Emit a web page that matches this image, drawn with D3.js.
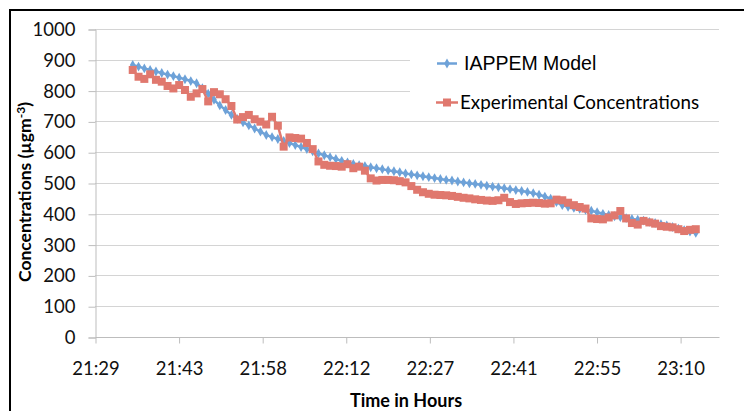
<!DOCTYPE html>
<html>
<head>
<meta charset="utf-8">
<script src="https://cdn.jsdelivr.net/npm/d3@7"></script>
<style>
  body { margin: 0; background: #fff; }
  svg { display: block; }
</style>
</head>
<body>
<div id="chart"></div>
<script>
// readings, one per minute starting 21:35:30
var startMinute = 6.5;   // minutes after 21:29
var stepMinutes = 1;

var modelValues = [
  883, 878, 872, 867, 862, 857, 852, 847, 842, 837,
  831, 824, 808, 790, 770, 752, 737, 721, 708, 697,
  687, 677, 667, 656, 649, 643, 637, 630, 623, 617,
  610, 603, 596, 590, 584, 578, 572, 567, 562, 558,
  555, 551, 548, 545, 541, 538, 535, 531, 528, 525,
  522, 519, 516, 513, 510, 508, 505, 502, 499, 497,
  494, 491, 488, 486, 483, 480, 477, 474, 471, 467,
  462, 456, 449, 438, 428, 423, 419, 416, 413, 410,
  405, 400, 396, 392, 389, 386, 383, 381, 378, 374,
  370, 366, 362, 357, 352, 347, 342, 338
];

var experimentalValues = [
  867, 845, 838, 853, 835, 829, 815, 807, 818, 802,
  780, 791, 805, 765, 795, 788, 772, 750, 706, 714,
  721, 707, 699, 690, 715, 686, 618, 648, 646, 644,
  630, 610, 570, 559, 556, 555, 553, 561, 548, 553,
  540, 515, 508, 510, 510, 509, 506, 502, 490, 478,
  470, 465, 462, 461, 460, 458, 455, 452, 450, 447,
  445, 443, 442, 444, 452, 438, 432, 434, 435, 436,
  435, 433, 434, 446, 444, 436, 428, 422, 417, 385,
  383, 382, 388, 395, 409, 385, 370, 365, 377, 372,
  368, 360, 358, 356, 350, 344, 348, 350
];

var seriesNames = ['IAPPEM Model', 'Experimental Concentrations'];
var seriesColors = ['#6ea2d8', '#e0786e'];

var xTickLabels = ['21:29', '21:43', '21:58', '22:12', '22:27', '22:41', '22:55', '23:10'];
var xTickStep = 14.4; // minutes between labels
var yTicks = [0, 100, 200, 300, 400, 500, 600, 700, 800, 900, 1000];

var width = 744, height = 411;
var plotLeft = 95, plotRight = 719, plotTop = 29, plotBottom = 337;
var labelFont = 'Lato, "Open Sans", sans-serif';
var sq = 8; // red marker side

var svg = d3.select('#chart')
  .append('svg')
  .attr('width', width)
  .attr('height', height);

var x = d3.scaleLinear().domain([0, 107.5]).range([plotLeft, plotRight]);
var y = d3.scaleLinear().domain([0, 1000]).range([plotBottom, plotTop]);

var times = modelValues.map(function(d, i) { return startMinute + i * stepMinutes; });

// outer frame (left and top edges)
svg.append('path')
  .attr('d', 'M10,411 L10,10 L744,10')
  .attr('fill', 'none')
  .attr('stroke', '#000')
  .attr('stroke-width', 2);

// gridlines
svg.append('g')
  .selectAll('line')
  .data(yTicks.filter(function(d) { return d > 0; }))
  .enter().append('line')
  .attr('x1', plotLeft).attr('x2', plotRight)
  .attr('y1', function(d) { return Math.round(y(d)) + 0.5; })
  .attr('y2', function(d) { return Math.round(y(d)) + 0.5; })
  .attr('stroke', '#d4d4d4')
  .attr('stroke-width', 1);

// y axis
var yAxis = d3.axisLeft(y).tickValues(yTicks).tickFormat(d3.format('d'))
  .tickSize(7).tickPadding(13);
var gy = svg.append('g')
  .attr('transform', 'translate(' + (plotLeft + 0.5) + ',0.5)')
  .call(yAxis);
gy.select('.domain').attr('stroke', '#bdbdbd');
gy.selectAll('.tick line').attr('stroke', '#bdbdbd');
gy.selectAll('.tick text')
  .attr('fill', '#111')
  .style('font-family', labelFont)
  .style('font-size', '18.5px');

// x axis
var xTickValues = xTickLabels.map(function(d, i) { return i * xTickStep; });
var xAxis = d3.axisBottom(x)
  .tickValues(xTickValues)
  .tickFormat(function(d, i) { return xTickLabels[i]; })
  .tickSize(6).tickPadding(18);
var gx = svg.append('g')
  .attr('transform', 'translate(0.5,' + (plotBottom + 0.5) + ')')
  .call(xAxis);
gx.select('.domain').attr('d', 'M' + plotLeft + ',0H' + plotRight).attr('stroke', '#bdbdbd');
gx.selectAll('.tick line').attr('stroke', '#bdbdbd');
gx.selectAll('.tick text')
  .attr('fill', '#111')
  .style('font-family', labelFont)
  .style('font-size', '18.5px');

// axis titles
var yTitle = svg.append('text')
  .attr('transform', 'translate(31,192) rotate(-90)')
  .attr('text-anchor', 'middle')
  .style('font-family', labelFont)
  .style('font-size', '17.5px')
  .style('font-weight', 'bold');
yTitle.append('tspan').text('Concentrations (µgm');
yTitle.append('tspan').attr('dy', -6).style('font-size', '12px').text('-3');
yTitle.append('tspan').attr('dy', 6).text(')');

svg.append('text')
  .attr('x', 406)
  .attr('y', 407)
  .attr('text-anchor', 'middle')
  .style('font-family', labelFont)
  .style('font-size', '18px')
  .style('font-weight', 'bold')
  .text('Time in Hours');

var line = d3.line()
  .x(function(d, i) { return x(times[i]); })
  .y(function(d) { return y(d); });

// model series: line + diamonds
svg.append('path')
  .datum(modelValues)
  .attr('d', line)
  .attr('fill', 'none')
  .attr('stroke', seriesColors[0])
  .attr('stroke-width', 2.5);

svg.append('g')
  .selectAll('path')
  .data(modelValues)
  .enter().append('path')
  .attr('d', d3.symbol().type(d3.symbolDiamond).size(28))
  .attr('transform', function(d, i) { return 'translate(' + x(times[i]) + ',' + y(d) + ')'; })
  .attr('fill', seriesColors[0]);

// experimental series: line + squares
svg.append('path')
  .datum(experimentalValues)
  .attr('d', line)
  .attr('fill', 'none')
  .attr('stroke', seriesColors[1])
  .attr('stroke-width', 2.5);

svg.append('g')
  .selectAll('rect')
  .data(experimentalValues)
  .enter().append('rect')
  .attr('x', function(d, i) { return x(times[i]) - sq / 2; })
  .attr('y', function(d) { return y(d) - sq / 2; })
  .attr('width', sq).attr('height', sq)
  .attr('fill', seriesColors[1]);

// legend
var legend = svg.append('g');
legend.append('rect')
  .attr('x', 410).attr('y', 36)
  .attr('width', 312).attr('height', 80)
  .attr('fill', '#fff');

legend.append('line')
  .attr('x1', 437).attr('x2', 457).attr('y1', 63.5).attr('y2', 63.5)
  .attr('stroke', seriesColors[0]).attr('stroke-width', 2.5);
legend.append('path')
  .attr('d', d3.symbol().type(d3.symbolDiamond).size(28))
  .attr('transform', 'translate(447,63.5)')
  .attr('fill', seriesColors[0]);
legend.append('text')
  .attr('x', 464).attr('y', 70)
  .style('font-family', '"Liberation Sans", Arial, sans-serif')
  .style('font-size', '19.5px')
  .text(seriesNames[0]);

legend.append('line')
  .attr('x1', 436).attr('x2', 458).attr('y1', 102.5).attr('y2', 102.5)
  .attr('stroke', seriesColors[1]).attr('stroke-width', 2.5);
legend.append('rect')
  .attr('x', 447 - sq / 2).attr('y', 102.5 - sq / 2).attr('width', sq).attr('height', sq)
  .attr('fill', seriesColors[1]);
legend.append('text')
  .attr('x', 460).attr('y', 109)
  .style('font-family', labelFont)
  .style('font-size', '18.8px')
  .text(seriesNames[1]);
</script>
</body>
</html>
